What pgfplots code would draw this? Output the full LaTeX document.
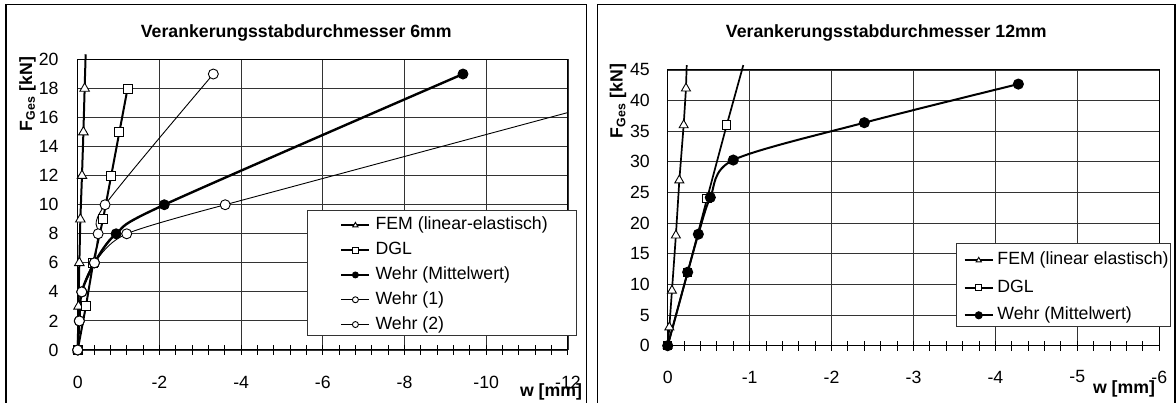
\documentclass[border=0pt]{standalone}
\usepackage{pgfplots}
\pgfplotsset{compat=1.18}
\usepackage{fontspec}
\setmainfont{Liberation Sans}
\newcommand\fs{\fontsize{17.7pt}{21pt}\selectfont}
\begin{document}
\begin{tikzpicture}[x=1pt,y=1pt]
\path[use as bounding box] (0,0) rectangle (1176,403);
\draw[line width=1.3pt] (6,-2) -- (6,398.7) -- (586.7,398.7) -- (586.7,-2);
\draw[line width=1.3pt] (597.7,-2) -- (597.7,398.3) -- (1175,398.3) -- (1175,-2);
\pgfplotsset{myaxis/.style={
  scale only axis, clip=false, x dir=reverse,
  axis line style={black, line width=1pt},
  grid=major, major grid style={black!80, line width=0.9pt},
  tick pos=left, tick align=center,
  major tick length=10pt, minor tick length=10pt,
  every tick/.style={black, line width=1pt},
  ytick style={draw=none},
  tick label style={font=\fs},
  /pgf/number format/assume math mode=true,
  yticklabel style={anchor=east, inner sep=0pt},
  minor x tick num=4,
  legend cell align=left,
  legend style={draw=none, fill=none, inner sep=0pt, font=\fs,
     nodes={inner sep=0pt, text height=13pt, text depth=4pt}},
  legend image code/.code={\draw[mark repeat=2,mark phase=2,##1] plot coordinates {(0pt,0pt)(14pt,0pt)(28pt,0pt)};},
  legend image post style={mark size=3pt},
}}
% left panel
\begin{axis}[myaxis, at={(77.7pt,53pt)}, anchor=south west, width=490.3pt, height=290.5pt,
  xmin=-12, xmax=0, ymin=0, ymax=20,
  xtick={0,-2,-4,-6,-8,-10,-12}, xticklabels={0,-2,-4,-6,-8,-10,-12},
  ytick={0,2,4,6,8,10,12,14,16,18,20},
  xticklabel style={anchor=center, yshift=-27pt},
  yticklabel style={xshift=-14pt},
  legend style={at={(0.535,0.459)}, anchor=north west, row sep=7.8pt, column sep=5pt}]
\addplot[black, line width=2pt, mark=triangle*, mark size=5.5pt, mark options={fill=white, line width=0.9pt}]
  coordinates {(0,0)(-0.02,3)(-0.04,6)(-0.065,9)(-0.105,12)(-0.14,15)(-0.17,18)};
\addlegendentry{FEM (linear-elastisch)}
\addplot[black, line width=2pt, forget plot] coordinates {(-0.17,18)(-0.195,20.36)};
\addplot[black, line width=2pt, mark=square*, mark size=4.5pt, mark options={fill=white, line width=0.9pt}]
  coordinates {(0,0)(-0.2,3)(-0.38,6)(-0.62,9)(-0.82,12)(-1.02,15)(-1.22,18)};
\addlegendentry{DGL}
\addplot[black, line width=2.4pt, smooth, tension=0.5, mark=*, mark size=5pt, mark options={fill=black, line width=0.9pt}]
  coordinates {(0,0)(-0.04,2)(-0.1,4)(-0.41,6)(-0.94,8)(-2.12,10)(-9.43,19)};
\addlegendentry{Wehr (Mittelwert)}
\addplot[black, line width=0.9pt, smooth, tension=0.5, mark=*, mark size=5pt, mark options={fill=white, line width=0.9pt}]
  coordinates {(0,0)(-0.04,2)(-0.1,4)(-0.41,6)(-0.5,8)(-0.67,10)(-3.32,19)};
\addlegendentry{Wehr (1)}
\addplot[black, line width=0.9pt, smooth, tension=0.5, mark=*, mark size=5pt, mark options={fill=white, line width=0.9pt}]
  coordinates {(0,0)(-0.04,2)(-0.1,4)(-0.41,6)(-1.2,8)(-3.61,10)};
\addlegendentry{Wehr (2)}
\addplot[black, line width=0.9pt, forget plot] coordinates {(-3.61,10)(-12,16.35)};
\draw[fill=white, draw=black!80, line width=0.9pt] (axis description cs:0.4677,0.0516) rectangle (axis description cs:1.0163,0.482);
\end{axis}
% right panel
\begin{axis}[myaxis, at={(667.7pt,57.3pt)}, anchor=south west, width=491.6pt, height=275.7pt,
  xmin=-6, xmax=0, ymin=0, ymax=45,
  xtick={0,-1,-2,-3,-4,-5,-6}, xticklabels={0,-1,-2,-3,-4,-5,-6},
  ytick={0,5,10,15,20,25,30,35,40,45},
  xticklabel style={anchor=center, yshift=-26.3pt},
  yticklabel style={xshift=-12.7pt},
  legend style={at={(0.6018,0.3413)}, anchor=north west, row sep=10.5pt, column sep=3.7pt}]
\addplot[black, line width=1.7pt, mark=triangle*, mark size=5.2pt, mark options={fill=white, line width=0.9pt}]
  coordinates {(0,0)(-0.02,3)(-0.052,9)(-0.1,18)(-0.142,27)(-0.195,36)(-0.223,42)};
\addlegendentry{FEM (linear elastisch)}
\addplot[black, line width=1.7pt, forget plot] coordinates {(-0.223,42)(-0.232,45.8)};
\addplot[black, line width=1.7pt, mark=square*, mark size=4.2pt, mark options={fill=white, line width=0.9pt}]
  coordinates {(0,0)(-0.244,12)(-0.48,24)(-0.72,36)};
\addlegendentry{DGL}
\addplot[black, line width=1.7pt, forget plot] coordinates {(-0.72,36)(-0.923,45.8)};
\addplot[black, line width=2pt, smooth, tension=0.5, mark=*, mark size=4.5pt, mark options={fill=black}]
  coordinates {(0,0)(-0.244,12)(-0.374,18.2)(-0.52,24.2)(-0.8,30.3)(-2.4,36.4)(-4.28,42.7)};
\addlegendentry{Wehr (Mittelwert)}
\draw[fill=white, draw=black!80, line width=0.9pt] (axis description cs:0.588,0.0689) rectangle (axis description cs:1.0218,0.3714);
\end{axis}
\node[font=\fs\bfseries, inner sep=0pt] at (296.3,370.5) {Verankerungsstabdurchmesser 6mm};
\node[font=\fs\bfseries, inner sep=0pt] at (886.3,370.5) {Verankerungsstabdurchmesser 12mm};
\node[font=\fs\bfseries, inner sep=0pt, rotate=90] at (27.5,309) {F\textsubscript{Ges} [kN]};
\node[font=\fs\bfseries, inner sep=0pt, rotate=90] at (618,302) {F\textsubscript{Ges} [kN]};
\node[font=\fs\bfseries, inner sep=0pt] at (551,11) {w [mm]};
\node[font=\fs\bfseries, inner sep=0pt] at (1124,14) {w [mm]};
\end{tikzpicture}
\end{document}
